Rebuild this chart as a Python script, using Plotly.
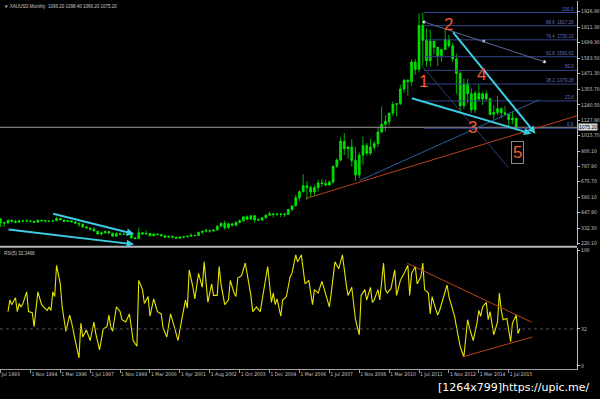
import plotly.graph_objects as go

# ---------------- data (monthly gold, one candle per two bars) ----------------
price_high = [406,380,392,396,393,396,392,398, 390,386,396,392,391,388,390,418,
              406,395,390,388,385,370,366,350, 335,337,312,306,315,310,297,302,
              300,294,290,290,263,338,300,316, 294,294,291,287,278,275,275,268,
              272,276,277,293,283,306,314,330, 320,326,351,372,388,372,370,382,
              397,417,427,427,428,408,412,432, 456,440,446,441,448,475,500,577,
              611,730,680,646,651,690,695,690, 684,791,845,1000,1033,934,988,930,
              890,1007,960,990,975,1070,1227,1163, 1182,1265,1250,1387,1432,1430,1575,1577,
              1913,1921,1804,1792,1711,1670,1650,1795, 1755,1697,1617,1488,1434,1434,1362,1346,
              1392,1332,1346,1290,1239,1307,1224,1232, 1173,1191,1146]
price_low = [340,343,368,375,368,375,375,383, 374,371,373,380,380,381,381,386,
             390,380,380,376,366,340,337,333, 314,308,283,278,292,286,271,272,
             282,282,278,256,252,254,280,281, 273,271,278,270,263,262,255,255,
             255,264,264,271,270,277,291,300, 298,309,316,342,320,325,342,346,
             370,380,390,395,372,385,386,403, 426,411,421,413,415,430,456,494,
             533,598,540,560,573,602,637,640, 642,660,773,825,871,844,786,681,
             700,800,865,868,905,930,1035,1044, 1088,1160,1155,1240,1330,1308,1380,1462,
             1480,1532,1523,1522,1613,1527,1560,1645, 1662,1555,1321,1180,1208,1251,1180,1182,
             1268,1240,1272,1161,1131,1167,1142,1162, 1077,1098,1062]
price_close = [372,370,390,381,376,385,386,384, 383,376,390,387,383,383,387,404,
               392,382,386,378,369,362,340,334, 325,311,289,297,308,296,273,292,
               288,287,286,261,255,299,290,293, 276,289,285,277,265,273,266,258,
               266,268,273,279,278,302,309,315, 312,318,347,368,336,364,354,375,
               386,416,398,424,393,392,408,428, 438,434,435,436,433,470,496,556,
               600,645,632,599,630,665,662,650, 672,789,834,972,918,930,830,723,
               870,940,885,928,955,1040,1097,1118, 1180,1245,1248,1357,1421,1411,1556,1502,
               1826,1716,1566,1710,1664,1604,1648,1720, 1675,1579,1472,1234,1395,1323,1204,1326,
               1284,1322,1286,1171,1184,1212,1183,1172, 1132,1142,1075]
first_open = 400
price_open = [first_open] + price_close[:-1]
candle_bar = list(range(0, 2 * len(price_close), 2))

rsi_bar = [4,5,6,8,9,10,11,12,14,15,17,18,20,22,23,25,26,27,28,29,30,32,33,35,37,38,40,42,43,44,
           46,48,50,51,53,55,57,58,59,60,62,64,65,67,69,71,73,74,76,77,79,80,82,84,86,87,89,91,93,95,
           97,99,100,101,103,104,106,108,109,111,113,114,116,117,118,120,122,123,125,126,127,129,131,134,135,137,139,141,143,145,
           146,147,148,150,151,153,155,156,158,159,161,163,165,167,168,170,172,173,176,177,179,181,183,185,186,188,190,192,193,195,
           196,198,199,200,202,203,205,206,207,209,211,212,214,216,218,219,220,222,223,225,226,227,229,230,231,232,234,235,237,239,
           240,242,243,244,246,248,249,250,251,253,255,256,257,258,260,261,262,264,266,267,268,269,271,273,274,276,277,278]
rsi_val = [47,57,53,59,47,54,51,54,64,47,46,34,64,53,51,48,51,48,64,60,87,71,51,30,44,38,22,7,37,25,
           31,22,38,28,14,32,34,44,34,30,51,47,40,38,45,22,17,74,66,54,60,43,58,47,45,33,25,45,34,22,
           40,57,50,83,68,58,80,68,90,55,71,61,61,86,71,53,57,74,63,60,76,78,89,61,47,51,47,66,86,55,
           63,53,58,43,57,60,77,80,96,90,96,71,74,53,66,63,73,68,51,63,90,84,96,71,61,68,40,27,61,66,
           57,68,55,57,66,57,89,66,63,67,83,61,74,80,87,61,80,86,71,77,89,66,63,45,60,54,44,48,58,70,
           60,48,43,34,17,8,25,40,33,22,37,48,43,51,55,40,47,27,38,63,48,40,41,21,37,44,28,32.35]

x_tick_bars = list(range(0, 288, 16))
x_tick_text = ["Jul 1993", "1 Nov 1994", "1 Mar 1996", "1 Jul 1997", "1 Nov 1998", "1 Mar 2000",
               "1 Apr 2001", "1 Aug 2002", "1 Oct 2003", "1 Dec 2004", "1 Mar 2006", "1 Jul 2007",
               "1 Nov 2008", "1 Mar 2010", "1 Jul 2011", "1 Nov 2012", "1 Mar 2014", "1 Jul 2015"]
price_ticks = [1926.90, 1811.30, 1699.30, 1583.50, 1471.30, 1355.70, 1240.50, 1127.90,
               1015.70, 900.10, 787.90, 675.70, 560.10, 447.90, 332.30, 220.10]
rsi_ticks = [100, 32, 0]
bid_price = 1075.20

fib_high, fib_low = 1920.8, 1068.0
fib_levels = [100.0, 88.6, 76.4, 61.8, 50.0, 38.2, 23.6, 0.0]
fib_texts = ["100.0", "88.6  1817.26", "76.4  1730.10", "61.8  1583.62", "50.0",
             "38.2  1379.28", "23.6", "0.0"]
fib_start_bar = 226.7

# drawing objects (bar, price) anchors
cyan_arrows = [((219.3, 1292.9), (284.2, 1028.4)),
               ((241.6, 1785.1), (286.3, 1028.4)),
               ((27.4, 440.6), (71.5, 290.0)),
               ((3.5, 323.1), (71.5, 212.8))]
thin_lines = [((163.5, 550.8), (308.6, 1160.6), "#b8401a"),
              ((192.2, 683.1), (288.4, 1278.2), "#2f5c9c"),
              ((224.6, 1542.7), (271.9, 778.6), "#2c3c7c"),
              ((226.7, 1851.2), (291.1, 1557.3), "#5a6a9c")]
dot_points_bar = [226.7, 258.6, 291.1]
dot_points_price = [1851.2, 1711.6, 1557.3]
wave_labels = [("1", 226.2, 1409.8), ("2", 240.0, 1829.2), ("3", 252.8, 1072.4),
               ("4", 257.6, 1461.8), ("5", 276.7, 888.6)]
rsi_lines = [((217.7, 88.8), (284.2, 37.9)), ((247.0, 7.8), (284.7, 25.0))]

X_RANGE = [-0.27, 308.6]
P_RANGE = [205.5, 2005.5]
R_RANGE = [-2.6, 101.7]
XD = [0, 0.9683]

# ---------------- figure ----------------
fig = go.Figure()
fig.add_trace(go.Candlestick(
    x=candle_bar, open=price_open, high=price_high, low=price_low, close=price_close,
    increasing=dict(line=dict(color="#00ff00", width=0.7), fillcolor="#00d000"),
    decreasing=dict(line=dict(color="#00ff00", width=0.7), fillcolor="#00d000"),
    whiskerwidth=0, xaxis="x", yaxis="y", showlegend=False, hoverinfo="skip"))
fig.add_trace(go.Scatter(x=rsi_bar, y=rsi_val, mode="lines",
                         line=dict(color="#e6e600", width=1.1),
                         xaxis="x2", yaxis="y2", showlegend=False, hoverinfo="skip"))
fig.add_trace(go.Scatter(x=dot_points_bar, y=dot_points_price, mode="markers",
                         marker=dict(color="white", size=3), xaxis="x", yaxis="y",
                         showlegend=False, hoverinfo="skip"))

shapes = []
# bid line
shapes.append(dict(type="line", xref="x", yref="y", x0=X_RANGE[0], x1=X_RANGE[1],
                   y0=bid_price, y1=bid_price, line=dict(color="#9a9a9a", width=1)))
# fibonacci
for lvl in fib_levels:
    p = fib_low + lvl / 100.0 * (fib_high - fib_low)
    shapes.append(dict(type="line", xref="x", yref="y", x0=fib_start_bar, x1=X_RANGE[1],
                       y0=p, y1=p, line=dict(color="#34468a", width=1)))
for (a, b, col) in thin_lines:
    shapes.append(dict(type="line", xref="x", yref="y", x0=a[0], y0=a[1], x1=b[0], y1=b[1],
                       line=dict(color=col, width=1)))
for (a, b) in rsi_lines:
    shapes.append(dict(type="line", xref="x2", yref="y2", x0=a[0], y0=a[1], x1=b[0], y1=b[1],
                       line=dict(color="#b8401a", width=1)))
# RSI level
shapes.append(dict(type="line", xref="x2", yref="y2", x0=X_RANGE[0], x1=X_RANGE[1],
                   y0=32, y1=32, line=dict(color="#505050", width=1, dash="dot")))
# separator between windows
shapes.append(dict(type="line", xref="paper", yref="paper", x0=0, x1=XD[1],
                   y0=0.3325, y1=0.3325, line=dict(color="#b4b4b4", width=2)))

annotations = []
for (tail, head) in cyan_arrows:
    annotations.append(dict(x=head[0], y=head[1], ax=tail[0], ay=tail[1], xref="x", yref="y",
                            axref="x", ayref="y", text="", showarrow=True, arrowhead=2,
                            arrowsize=0.75, arrowwidth=2, arrowcolor="#3ccbe2"))
for lvl, txt in zip(fib_levels, fib_texts):
    p = fib_low + lvl / 100.0 * (fib_high - fib_low)
    annotations.append(dict(x=X_RANGE[1] - 0.6, y=p, xref="x", yref="y", text=txt,
                            showarrow=False, xanchor="right", yanchor="bottom", yshift=-1,
                            font=dict(size=4.5, color="#6272c0", family="Liberation Sans")))
for txt, bx, py in wave_labels:
    box = txt == "5"
    annotations.append(dict(x=bx, y=py, xref="x", yref="y", text=txt, showarrow=False,
                            font=dict(size=17, color="#f45a2c", family="Liberation Sans"),
                            bordercolor="#8a8a8a" if box else None,
                            borderwidth=1 if box else 0, borderpad=1))
annotations.append(dict(x=XD[1], y=bid_price, xref="paper", yref="y", text="1075.20",
                        showarrow=False, xanchor="left", xshift=1, bgcolor="#dcdcdc",
                        borderpad=0, font=dict(size=5, color="black", family="Liberation Sans")))
annotations.append(dict(x=0.003, y=1, xref="paper", yref="paper", yanchor="top", xanchor="left",
                        text="▼ XAUUSD,Monthly  1096.20 1098.40 1066.20 1075.20", showarrow=False,
                        yshift=-1, font=dict(size=4.5, color="#c8c8c8", family="Liberation Sans")))
annotations.append(dict(x=0.003, y=1, xref="paper", yref="y2 domain", yanchor="top", xanchor="left",
                        text="RSI(5) 32.3468", showarrow=False, yshift=-1,
                        font=dict(size=4.5, color="#c8c8c8", family="Liberation Sans")))
annotations.append(dict(x=0.863, y=-0.049, xref="paper", yref="paper", xanchor="center",
                        yanchor="middle", text="[1264x799]https://upic.me/", showarrow=False,
                        font=dict(size=11, color="white", family="DejaVu Sans")))

axfont = dict(size=5, color="#c8c8c8", family="Liberation Sans Narrow, DejaVu Sans Condensed, Liberation Sans")
fig.update_layout(
    width=600, height=399, margin=dict(l=0, r=0, t=0, b=30),
    paper_bgcolor="black", plot_bgcolor="black",
    xaxis=dict(domain=XD, range=X_RANGE, anchor="y", showticklabels=False, showgrid=False,
               zeroline=False, showline=False, ticks="", rangeslider=dict(visible=False)),
    xaxis2=dict(domain=XD, range=X_RANGE, anchor="y2", tickvals=x_tick_bars, ticktext=x_tick_text,
                ticks="outside", ticklen=3, tickcolor="#a0a0a0", showline=True, linecolor="#a0a0a0",
                showgrid=False, zeroline=False, tickfont=axfont, tickangle=0,
                ticklabelposition="outside right"),
    yaxis=dict(domain=[0.336, 1], range=P_RANGE, anchor="x", side="right", tickvals=price_ticks,
               ticktext=["%.2f" % v for v in price_ticks], ticks="outside", ticklen=2,
               tickcolor="#c0c0c0", showline=True, linecolor="#c0c0c0", showgrid=False,
               zeroline=False, tickfont=axfont),
    yaxis2=dict(domain=[0, 0.328], range=R_RANGE, anchor="x2", side="right", tickvals=rsi_ticks,
                ticktext=[str(v) for v in rsi_ticks], ticks="outside", ticklen=2,
                tickcolor="#c0c0c0", showline=True, linecolor="#c0c0c0", showgrid=False,
                zeroline=False, tickfont=axfont),
    shapes=shapes, annotations=annotations, showlegend=False,
)
fig.write_html("out.html")
